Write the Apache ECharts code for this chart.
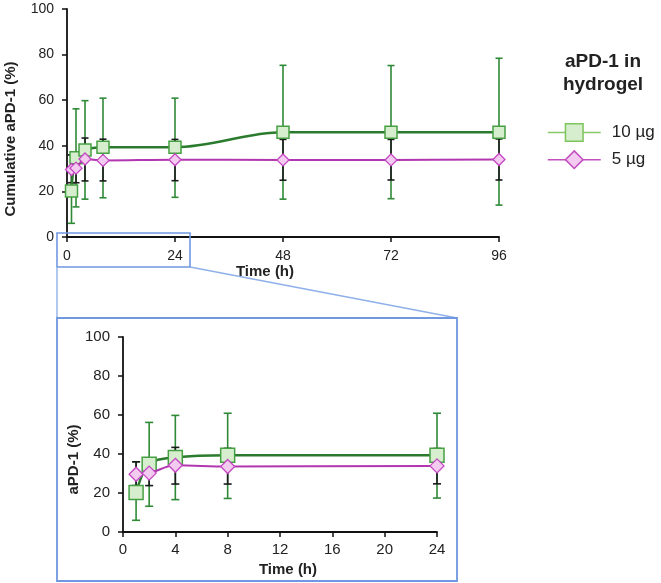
<!DOCTYPE html>
<html>
<head>
<meta charset="utf-8">
<script src="https://cdn.jsdelivr.net/npm/echarts@6/dist/echarts.min.js"></script>
<style>
html,body{margin:0;padding:0;background:#fff;}
#c{width:661px;height:583px;}
</style>
</head>
<body>
<div id="c"></div>
<script>
// ---- data ----
var timeMain = [1, 2, 4, 8, 24, 48, 72, 96];
var timeInset = [1, 2, 4, 8, 24];
var mean10 = [20.2, 34.8, 38.2, 39.4, 39.4, 45.9, 45.9, 45.9];
var low10  = [6.0, 13.2, 16.6, 17.2, 17.4, 16.6, 16.8, 14.0];
var high10 = [36.0, 56.2, 59.8, 60.9, 60.9, 75.3, 75.2, 78.4];
var mean5  = [29.6, 30.2, 34.2, 33.6, 33.9, 33.8, 33.8, 34.0];
var low5   = [23.8, 23.8, 24.6, 24.6, 24.7, 24.9, 25.0, 25.0];
var high5  = [36.0, 36.6, 43.4, 42.9, 42.8, 42.8, 42.8, 43.0];
var xTicksMain = [0, 24, 48, 72, 96];
var xTicksInset = [0, 4, 8, 12, 16, 20, 24];
var yTicks = [0, 20, 40, 60, 80, 100];
var seriesNames = ['10 µg', '5 µg'];
var legendTitle = ['aPD-1 in', 'hydrogel'];

// ---- helpers ----
function pairs(xs, ys){ return xs.map(function(x,i){ return [x, ys[i]]; }); }
function errData(xs, lo, hi){ return xs.map(function(x,i){ return [x, lo[i], hi[i]]; }); }
function errRender(color, cap, lw){
  return function(params, api){
    var x = api.value(0), lo = api.value(1), hi = api.value(2);
    var a = api.coord([x, lo]), b = api.coord([x, hi]);
    var st = {stroke: color, lineWidth: lw};
    return {type:'group', children:[
      {type:'line', shape:{x1:a[0],y1:a[1],x2:b[0],y2:b[1]}, style:st},
      {type:'line', shape:{x1:a[0]-cap,y1:a[1],x2:a[0]+cap,y2:a[1]}, style:st},
      {type:'line', shape:{x1:b[0]-cap,y1:b[1],x2:b[0]+cap,y2:b[1]}, style:st}
    ]};
  };
}

var GREEN_LINE = '#2b7b2e', GREEN_ERR = '#2f8a37', GREEN_BORDER = '#46a043', GREEN_FILL = '#d6eecd';
var MAG_LINE = '#b236b0', MAG_BORDER = '#c446c2', MAG_FILL = '#f3cbf0';
var FONT = 'Liberation Sans, Arial, sans-serif';
var n = timeInset.length;

function axisCommon(){
  return {
    axisLine:{show:true, onZero:false, lineStyle:{color:'#111', width:1.8}},
    axisTick:{show:true, inside:false, length:5, lineStyle:{color:'#111', width:1.5}},
    splitLine:{show:false}
  };
}

var chart = echarts.init(document.getElementById('c'), null, {renderer:'canvas'});
var opt = {
  backgroundColor:'#fff',
  animation:false,
  textStyle:{fontFamily:FONT},
  grid:[
    {left:67, top:9, width:432, height:228, containLabel:false, outerBoundsMode:'none'},
    {left:123, top:337, width:314, height:195, containLabel:false, outerBoundsMode:'none'}
  ],
  xAxis:[
    Object.assign(axisCommon(), {
      type:'value', gridIndex:0, min:xTicksMain[0], max:xTicksMain[xTicksMain.length-1], interval:24,
      axisLabel:{fontSize:14, color:'#222', margin:12, fontFamily:FONT},
      name:'Time (h)', nameLocation:'middle', nameGap:27,
      nameTextStyle:{fontSize:15, fontWeight:'bold', color:'#222', padding:[0,36,0,0], fontFamily:FONT}
    }),
    Object.assign(axisCommon(), {
      type:'value', gridIndex:1, min:xTicksInset[0], max:xTicksInset[xTicksInset.length-1], interval:4,
      axisLabel:{fontSize:15, color:'#222', margin:10, fontFamily:FONT},
      name:'Time (h)', nameLocation:'middle', nameGap:30,
      nameTextStyle:{fontSize:15, fontWeight:'bold', color:'#222', padding:[0,0,0,16], fontFamily:FONT}
    })
  ],
  yAxis:[
    Object.assign(axisCommon(), {
      type:'value', gridIndex:0, min:yTicks[0], max:yTicks[yTicks.length-1], interval:20,
      axisLabel:{fontSize:14, color:'#222', margin:13, fontFamily:FONT},
      name:'Cumulative aPD-1 (%)', nameLocation:'middle', nameGap:49, nameRotate:90,
      nameTextStyle:{fontSize:15, fontWeight:'bold', color:'#222', padding:[0,32,0,0], fontFamily:FONT}
    }),
    Object.assign(axisCommon(), {
      type:'value', gridIndex:1, min:yTicks[0], max:yTicks[yTicks.length-1], interval:20,
      axisLabel:{fontSize:15, color:'#222', margin:13, fontFamily:FONT},
      name:'aPD-1 (%)', nameLocation:'middle', nameGap:37, nameRotate:90,
      nameTextStyle:{fontSize:15, fontWeight:'bold', color:'#222', padding:[0,50,0,0], fontFamily:FONT}
    })
  ],
  legend:{
    orient:'vertical', left:542, top:118, itemWidth:53, itemHeight:22, itemGap:8,
    textStyle:{fontSize:17, color:'#222', padding:[0,0,0,6], fontFamily:FONT},
    data:[
      {name:seriesNames[0],
       itemStyle:{color:GREEN_FILL, borderColor:'#7cc45c', borderWidth:1.5},
       lineStyle:{color:'#86c968', width:1.5}},
      {name:seriesNames[1],
       itemStyle:{color:MAG_FILL, borderColor:'#c24ec0', borderWidth:1.5},
       lineStyle:{color:'#c24ec0', width:1.5}}
    ]
  },
  series:[
    // error bars (main)
    {type:'custom', xAxisIndex:0, yAxisIndex:0, z:1, silent:true,
     renderItem:errRender(GREEN_ERR, 3.5, 1.6), encode:{x:0, y:[1,2]},
     data:errData(timeMain, low10, high10)},
    {type:'custom', xAxisIndex:0, yAxisIndex:0, z:2, silent:true,
     renderItem:errRender('#1a1a1a', 3.5, 1.6), encode:{x:0, y:[1,2]},
     data:errData(timeMain, low5, high5)},
    // error bars (inset)
    {type:'custom', xAxisIndex:1, yAxisIndex:1, z:1, silent:true,
     renderItem:errRender(GREEN_ERR, 4, 1.6), encode:{x:0, y:[1,2]},
     data:errData(timeInset, low10.slice(0,n), high10.slice(0,n))},
    {type:'custom', xAxisIndex:1, yAxisIndex:1, z:2, silent:true,
     renderItem:errRender('#1a1a1a', 4, 1.6), encode:{x:0, y:[1,2]},
     data:errData(timeInset, low5.slice(0,n), high5.slice(0,n))},
    // main lines
    {name:seriesNames[0], type:'line', xAxisIndex:0, yAxisIndex:0, z:3, smooth:0.35,
     symbol:'rect', symbolSize:12, showAllSymbol:true,
     lineStyle:{color:GREEN_LINE, width:2.5},
     itemStyle:{color:GREEN_FILL, borderColor:GREEN_BORDER, borderWidth:1.5},
     data:pairs(timeMain, mean10)},
    {name:seriesNames[1], type:'line', xAxisIndex:0, yAxisIndex:0, z:4, smooth:0.35,
     symbol:'diamond', symbolSize:12, showAllSymbol:true,
     lineStyle:{color:MAG_LINE, width:2},
     itemStyle:{color:MAG_FILL, borderColor:MAG_BORDER, borderWidth:1.3},
     data:pairs(timeMain, mean5)},
    // inset lines
    {name:seriesNames[0], type:'line', xAxisIndex:1, yAxisIndex:1, z:3, smooth:0.35,
     symbol:'rect', symbolSize:14, showAllSymbol:true,
     lineStyle:{color:GREEN_LINE, width:2.5},
     itemStyle:{color:GREEN_FILL, borderColor:GREEN_BORDER, borderWidth:1.5},
     data:pairs(timeInset, mean10.slice(0,n))},
    {name:seriesNames[1], type:'line', xAxisIndex:1, yAxisIndex:1, z:4, smooth:0.35,
     symbol:'diamond', symbolSize:14, showAllSymbol:true,
     lineStyle:{color:MAG_LINE, width:2},
     itemStyle:{color:MAG_FILL, borderColor:MAG_BORDER, borderWidth:1.3},
     data:pairs(timeInset, mean5.slice(0,n))}
  ],
  graphic:[
    {type:'text', x:603, y:62, style:{text:legendTitle[0], font:'bold 19px ' + FONT, fill:'#222', textAlign:'center', textVerticalAlign:'middle'}},
    {type:'text', x:603, y:85, style:{text:legendTitle[1], font:'bold 19px ' + FONT, fill:'#222', textAlign:'center', textVerticalAlign:'middle'}},
    // zoom highlight box and connectors
    {type:'rect', z:10, shape:{x:57, y:233, width:133, height:34}, style:{fill:null, stroke:'#6f98e0', lineWidth:1.6}},
    {type:'line', z:10, shape:{x1:57, y1:267, x2:57, y2:318}, style:{stroke:'#8fb0ea', lineWidth:1.4}},
    {type:'line', z:10, shape:{x1:190, y1:267, x2:457, y2:318}, style:{stroke:'#8fb0ea', lineWidth:1.4}},
    {type:'rect', z:10, shape:{x:57, y:318, width:400, height:263}, style:{fill:null, stroke:'#6f98e0', lineWidth:1.8}}
  ]
};
chart.setOption(opt);
</script>
</body>
</html>
